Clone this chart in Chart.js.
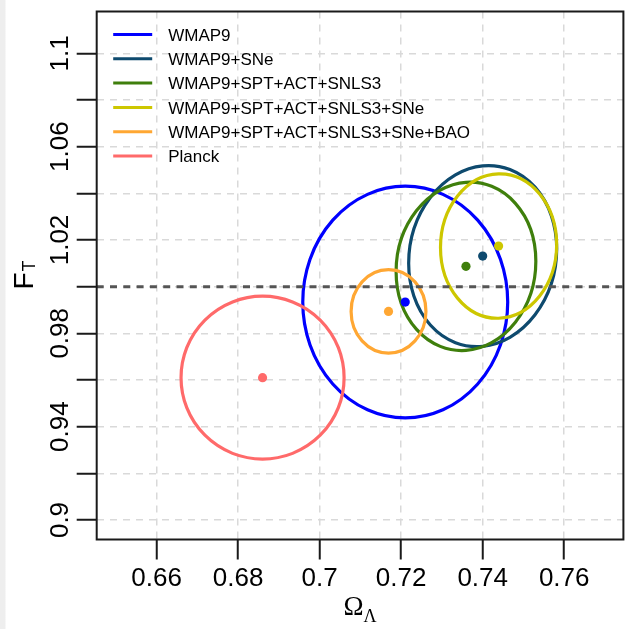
<!DOCTYPE html>
<html>
<head>
<meta charset="utf-8">
<script src="https://cdn.jsdelivr.net/npm/chart.js@4/dist/chart.umd.min.js"></script>
<style>
  html, body { margin: 0; padding: 0; overflow: hidden; }
  body { background: linear-gradient(to right, #eeeeee 0px, #eeeeee 5px, #ffffff 6px); width: 628px; height: 629px; }
  canvas { display: block; }
</style>
</head>
<body>
<canvas id="c" width="628" height="629"></canvas>
<script>
// ---- data ----
const seriesLabels = ['WMAP9', 'WMAP9+SNe', 'WMAP9+SPT+ACT+SNLS3', 'WMAP9+SPT+ACT+SNLS3+SNe', 'WMAP9+SPT+ACT+SNLS3+SNe+BAO', 'Planck'];
const seriesColors = ['#0000ff', '#0e4a6e', '#3f7f0c', '#cdc700', '#ffa733', '#ff6a6a'];
const centerOmegaL = [0.7210, 0.7400, 0.7359, 0.7439, 0.7169, 0.6860];
const centerFT     = [0.9934, 1.0131, 1.0087, 1.0174, 0.9894, 0.9610];
const halfWidthOmegaL = [0.02514, 0.01816, 0.01714, 0.01425, 0.00918, 0.02000];
const halfHeightFT    = [0.04964, 0.03879, 0.03609, 0.03095, 0.01786, 0.03490];
const correlation     = [0.00, 0.08, 0.06, 0.02, 0.00, 0.00];
const xTicks = [0.66, 0.68, 0.70, 0.72, 0.74, 0.76];
const xTickLabels = ['0.66', '0.68', '0.7', '0.72', '0.74', '0.76'];
const yTicks = [0.90, 0.92, 0.94, 0.96, 0.98, 1.00, 1.02, 1.04, 1.06, 1.08, 1.10];
const yTickLabels = ['0.9', '', '0.94', '', '0.98', '', '1.02', '', '1.06', '', '1.1'];
const xRange = [0.64531, 0.77452];
const yRange = [0.89164, 1.11792];
const referenceFT = 1.0;

const SANS = "'Liberation Sans', Arial, Helvetica, sans-serif";
const SERIF = "'Liberation Serif', 'Times New Roman', serif";

const ellipsePlugin = {
  id: 'ellipses',
  beforeDatasetsDraw(chart) {
    const { ctx, chartArea: ca, scales: { x, y } } = chart;
    ctx.save();
    ctx.beginPath();
    ctx.rect(ca.left, ca.top, ca.right - ca.left, ca.bottom - ca.top);
    ctx.clip();
    for (let i = 0; i < seriesLabels.length; i++) {
      const cx = x.getPixelForValue(centerOmegaL[i]);
      const cy = y.getPixelForValue(centerFT[i]);
      const ax = x.getPixelForValue(centerOmegaL[i] + halfWidthOmegaL[i]) - cx;
      const by = cy - y.getPixelForValue(centerFT[i] + halfHeightFT[i]);
      const r = correlation[i];
      ctx.save();
      ctx.beginPath();
      ctx.transform(ax, -by * r, 0, -by * Math.sqrt(1 - r * r), cx, cy);
      ctx.arc(0, 0, 1, 0, 2 * Math.PI);
      ctx.closePath();
      ctx.restore();
      ctx.lineWidth = 3.2;
      ctx.strokeStyle = seriesColors[i];
      ctx.stroke();
    }
    // reference line
    const yr = y.getPixelForValue(referenceFT);
    ctx.beginPath();
    ctx.setLineDash([7, 6.3]);
    ctx.lineWidth = 3;
    ctx.strokeStyle = '#555555';
    ctx.moveTo(ca.left, yr);
    ctx.lineTo(ca.right, yr);
    ctx.stroke();
    ctx.restore();
  },
  afterDraw(chart) {
    const { ctx, chartArea: ca } = chart;
    ctx.save();
    // frame
    ctx.lineWidth = 2;
    ctx.strokeStyle = '#1a1a1a';
    ctx.strokeRect(ca.left, ca.top, ca.right - ca.left, ca.bottom - ca.top);
    // legend
    ctx.font = '17px ' + SANS;
    ctx.textBaseline = 'middle';
    ctx.textAlign = 'left';
    for (let i = 0; i < seriesLabels.length; i++) {
      const ly = ca.top + 23 + i * 24.3;
      ctx.beginPath();
      ctx.lineWidth = 3;
      ctx.strokeStyle = seriesColors[i];
      ctx.moveTo(ca.left + 16.5, ly);
      ctx.lineTo(ca.left + 55.5, ly);
      ctx.stroke();
      ctx.fillStyle = '#000';
      ctx.fillText(seriesLabels[i], ca.left + 71.5, ly + 1.5);
    }
    // x axis title: Omega_Lambda
    const midX = (ca.left + ca.right) / 2;
    ctx.textBaseline = 'alphabetic';
    ctx.font = '27px ' + SERIF;
    const wO = ctx.measureText('Ω').width;
    ctx.font = '18px ' + SERIF;
    const wL = ctx.measureText('Λ').width;
    const startX = midX - (wO + wL) / 2;
    ctx.font = '27px ' + SERIF;
    ctx.fillText('Ω', startX, 615);
    ctx.font = '18px ' + SERIF;
    ctx.fillText('Λ', startX + wO, 621.5);
    // y axis title: F_T
    const midY = (ca.top + ca.bottom) / 2;
    ctx.translate(33, midY);
    ctx.rotate(-Math.PI / 2);
    ctx.font = '28px ' + SANS;
    const wF = ctx.measureText('F').width;
    ctx.font = '18px ' + SANS;
    const wT = ctx.measureText('T').width;
    const sx = -(wF + wT) / 2;
    ctx.font = '28px ' + SANS;
    ctx.fillText('F', sx, 0);
    ctx.font = '18px ' + SANS;
    ctx.fillText('T', sx + wF + 1, 2);
    ctx.restore();
  }
};

const datasets = seriesLabels.map((label, i) => ({
  label,
  data: [{ x: centerOmegaL[i], y: centerFT[i] }],
  backgroundColor: seriesColors[i],
  borderWidth: 0,
  pointRadius: 4.6,
  pointHoverRadius: 4.6
}));

new Chart(document.getElementById('c'), {
  type: 'scatter',
  data: { datasets },
  plugins: [ellipsePlugin],
  options: {
    responsive: false,
    animation: false,
    devicePixelRatio: 1,
    layout: { padding: { left: 0, top: 11.5, right: 3.7, bottom: 0 } },
    plugins: { legend: { display: false }, tooltip: { enabled: false } },
    scales: {
      x: {
        type: 'linear',
        min: xRange[0],
        max: xRange[1],
        afterBuildTicks: (s) => { s.ticks = xTicks.map(v => ({ value: v })); },
        afterFit: (s) => { s.height = 89.5; },
        ticks: {
          callback: (v, i) => xTickLabels[i],
          autoSkip: false, maxRotation: 0, minRotation: 0,
          color: '#000', padding: 4,
          font: { family: SANS, size: 26 }
        },
        grid: {
          color: '#d9d9d9', lineWidth: 1.5,
          tickLength: 20, tickColor: '#1a1a1a', tickWidth: 2, tickBorderDash: []
        },
        border: { display: false, dash: [7, 6] }
      },
      y: {
        type: 'linear',
        min: yRange[0],
        max: yRange[1],
        afterBuildTicks: (s) => { s.ticks = yTicks.map(v => ({ value: v })); },
        afterFit: (s) => { s.width = 96.7; },
        ticks: {
          callback: (v, i) => yTickLabels[i],
          autoSkip: false, minRotation: 90, maxRotation: 90,
          crossAlign: 'center',
          color: '#000', padding: -9,
          font: { family: SANS, size: 26 }
        },
        grid: {
          color: '#d9d9d9', lineWidth: 1.5,
          tickLength: 20, tickColor: '#1a1a1a', tickWidth: 2, tickBorderDash: []
        },
        border: { display: false, dash: [7, 6] }
      }
    }
  }
});
</script>
</body>
</html>
